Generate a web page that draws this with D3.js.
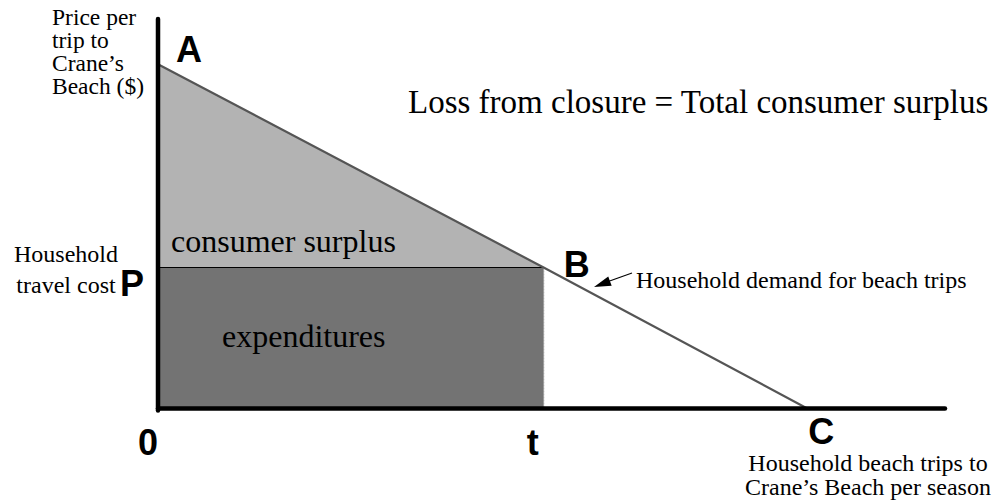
<!DOCTYPE html>
<html><head><meta charset="utf-8">
<script src="https://cdn.jsdelivr.net/npm/d3@7"></script>
<style>
html,body{margin:0;padding:0;background:#fff;}
svg{display:block;}
.serif{font-family:"Liberation Serif","Times New Roman",serif;fill:#000;}
.sans{font-family:"Liberation Sans",Arial,sans-serif;font-weight:bold;fill:#000;}
</style></head>
<body>
<svg id="chart" width="1005" height="500"></svg>
<script>
// Data
const pointLabels = ["A", "B", "C"];
const quantities = [0, 49, 82.5];     // household trips per season
const prices = [88.4, 36.2, 0];        // price per trip
const axisMax = [100, 100];            // quantity max, price max
const areaLabels = ["consumer surplus", "expenditures"];
const axisLabels = ["0", "t", "P"];

const svg = d3.select("#chart");
const x = d3.scaleLinear().domain([0, axisMax[0]]).range([158, 945]);
const y = d3.scaleLinear().domain([0, axisMax[1]]).range([408.5, 19]);

const qA = quantities[0], pA = prices[0];
const qB = quantities[1], pB = prices[1];

// consumer surplus triangle
svg.append("path")
  .attr("d", d3.line()([[x(qA), y(pA)], [x(qB), y(pB)], [x(0), y(pB)]]) + "Z")
  .attr("fill", "#b3b3b3");
// expenditures rectangle
svg.append("rect")
  .attr("x", x(0)).attr("y", y(pB))
  .attr("width", x(qB) - x(0)).attr("height", y(0) - y(pB))
  .attr("fill", "#737373");
// P line
svg.append("line")
  .attr("x1", x(0)).attr("x2", x(qB)).attr("y1", y(pB)).attr("y2", y(pB))
  .attr("stroke", "#000").attr("stroke-width", 1.2);
// t dotted line
svg.append("line")
  .attr("x1", x(qB)).attr("x2", x(qB)).attr("y1", y(pB)).attr("y2", y(0))
  .attr("stroke", "#999").attr("stroke-width", 1.2).attr("stroke-dasharray", "2,1");
// demand line
svg.append("path")
  .attr("d", d3.line()(quantities.map((q, i) => [x(q), y(prices[i])])))
  .attr("fill", "none").attr("stroke", "#555").attr("stroke-width", 2.2);

// axes
svg.append("line").attr("x1", x(0)).attr("x2", x(0)).attr("y1", y(axisMax[1])).attr("y2", y(0) + 2)
  .attr("stroke", "#000").attr("stroke-width", 4.5).attr("stroke-linecap", "round");
svg.append("line").attr("x1", x(0)).attr("x2", x(axisMax[0])).attr("y1", y(0)).attr("y2", y(0))
  .attr("stroke", "#000").attr("stroke-width", 4.5).attr("stroke-linecap", "round");

// point labels
const ptOffsets = [[18, -2.5], [20, 9], [14, 35.5]];
pointLabels.forEach((lab, i) => {
  svg.append("text").attr("class", "sans")
    .attr("x", x(quantities[i]) + ptOffsets[i][0])
    .attr("y", y(prices[i]) + ptOffsets[i][1])
    .attr("font-size", 36)
    .attr("text-anchor", i === 2 ? "middle" : "start")
    .text(lab);
});
// axis labels 0, t, P
svg.append("text").attr("class", "sans").attr("x", x(0) - 10).attr("y", y(0) + 46.5)
  .attr("font-size", 36).attr("text-anchor", "middle").text(axisLabels[0]);
svg.append("text").attr("class", "sans").attr("x", x(qB) - 11).attr("y", y(0) + 46.5)
  .attr("font-size", 36).attr("text-anchor", "middle").text(axisLabels[1]);
svg.append("text").attr("class", "sans").attr("x", x(0) - 38).attr("y", y(pB) + 28)
  .attr("font-size", 36).text(axisLabels[2]);

// serif texts
function ml(lines, xx, yy, lh, size, anchor) {
  const t = svg.append("text").attr("class", "serif").attr("font-size", size)
    .attr("text-anchor", anchor || "start");
  lines.forEach((l, i) => t.append("tspan").attr("x", xx).attr("y", yy + i * lh).text(l));
}
ml(["Price per", "trip to", "Crane\u2019s", "Beach ($)"], 52, 25, 23, 23.5);
ml(["Household", "travel cost"], 66, 262, 31, 24, "middle");
ml(["Loss from closure = Total consumer surplus"], 408, 113, 0, 33);
ml([areaLabels[0]], 171, 252, 0, 32);
ml([areaLabels[1]], 222, 347, 0, 32);
ml(["Household demand for beach trips"], 636, 288, 0, 24);
ml(["Household beach trips to", "Crane\u2019s Beach per season"], 868, 471, 24, 24, "middle");

// arrow
const ax1 = 632, ay1 = 273, ax2 = 594, ay2 = 287;
svg.append("line").attr("x1", ax1).attr("y1", ay1).attr("x2", ax2 + 10).attr("y2", ay2 - 4)
  .attr("stroke", "#000").attr("stroke-width", 1.2);
const ang = Math.atan2(ay2 - ay1, ax2 - ax1);
const L = 17, W = 5;
const bx = ax2 - L * Math.cos(ang), by = ay2 - L * Math.sin(ang);
svg.append("path").attr("d", d3.line()([
  [ax2, ay2],
  [bx + W * Math.sin(ang), by - W * Math.cos(ang)],
  [bx - W * Math.sin(ang), by + W * Math.cos(ang)]
]) + "Z").attr("fill", "#000");
</script>
</body></html>
